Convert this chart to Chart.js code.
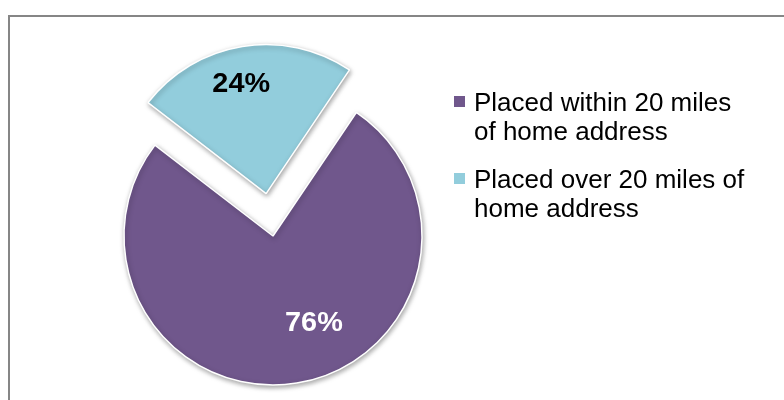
<!DOCTYPE html>
<html>
<head>
<meta charset="utf-8">
<script src="https://cdn.jsdelivr.net/npm/chart.js@4/dist/chart.umd.min.js"></script>
<style>
  html, body { margin: 0; padding: 0; background: #ffffff; }
  #wrap { width: 784px; height: 400px; position: relative; }
</style>
</head>
<body>
<div id="wrap"><canvas id="c" width="784" height="400"></canvas></div>
<script>
// ---- Data ----
const categories = ['Placed within 20 miles of home address', 'Placed over 20 miles of home address'];
const values = [76, 24];
const valueLabels = ['76%', '24%'];
const legendLines = [
  ['Placed within 20 miles', 'of home address'],
  ['Placed over 20 miles of', 'home address']
];

// ---- Styles ----
const sliceColors = ['#70578C', '#92CDDC'];
const labelColors = ['#ffffff', '#000000'];
const labelPlacement = [ { delta: -15.8, frac: 0.65 }, { delta: -3.6, frac: 0.755 } ];

const shadowPlugin = {
  id: 'shadow',
  beforeDatasetsDraw(chart) {
    const ctx = chart.ctx;
    ctx.save();
    ctx.shadowColor = 'rgba(0,0,0,0.35)';
    ctx.shadowBlur = 5;
    ctx.shadowOffsetX = 1;
    ctx.shadowOffsetY = 2;
  },
  afterDatasetsDraw(chart) {
    chart.ctx.restore();
  }
};

const labelPlugin = {
  id: 'sliceLabels',
  afterDatasetsDraw(chart) {
    const ctx = chart.ctx;
    const meta = chart.getDatasetMeta(0);
    ctx.save();
    ctx.font = 'bold 28px "Liberation Sans", Arial, sans-serif';
    ctx.textAlign = 'center';
    ctx.textBaseline = 'middle';
    meta.data.forEach((arc, i) => {
      const p = arc.getProps(['x', 'y', 'startAngle', 'endAngle', 'outerRadius'], true);
      const mid = (p.startAngle + p.endAngle) / 2;
      const off = (arc.options.offset || 0) / 4;
      const cx = p.x + Math.cos(mid) * off;
      const cy = p.y + Math.sin(mid) * off;
      const a = mid + labelPlacement[i].delta * Math.PI / 180;
      const r = labelPlacement[i].frac * p.outerRadius;
      ctx.fillStyle = labelColors[i];
      ctx.save();
      ctx.translate(cx + Math.cos(a) * r, cy + Math.sin(a) * r);
      ctx.scale(1.03, 1);
      ctx.fillText(valueLabels[i], 0, 0);
      ctx.restore();
    });
    ctx.restore();
  }
};

const legendPlugin = {
  id: 'customLegend',
  afterDraw(chart) {
    const ctx = chart.ctx;
    ctx.save();
    const baseY = [110.5, 187.5];
    const lineH = 29;
    baseY.forEach((by, i) => {
      ctx.fillStyle = sliceColors[i];
      ctx.fillRect(454, by - 14.5, 11, 11);
      ctx.fillStyle = '#000000';
      ctx.font = '25px "Liberation Sans", Arial, sans-serif';
      ctx.textAlign = 'left';
      ctx.textBaseline = 'alphabetic';
      legendLines[i].forEach((t, j) => {
        ctx.save();
        ctx.translate(474, by + j * lineH);
        ctx.scale(1.04, 1);
        ctx.fillText(t, 0, 0);
        ctx.restore();
      });
    });
    // outer frame
    ctx.strokeStyle = '#868686';
    ctx.lineWidth = 2;
    ctx.strokeRect(9, 16, 800, 420);
    ctx.restore();
  }
};

new Chart(document.getElementById('c'), {
  type: 'pie',
  data: {
    labels: categories,
    datasets: [{
      data: values,
      backgroundColor: sliceColors,
      borderColor: '#ffffff',
      borderWidth: 1.5,
      offset: [0, 172]
    }]
  },
  options: {
    responsive: false,
    animation: false,
    rotation: 34,
    radius: 149,
    layout: { padding: { left: 124, right: 362, top: 87, bottom: 15 } },
    plugins: {
      legend: { display: false },
      tooltip: { enabled: false }
    },
    events: []
  },
  plugins: [shadowPlugin, labelPlugin, legendPlugin]
});
</script>
</body>
</html>
